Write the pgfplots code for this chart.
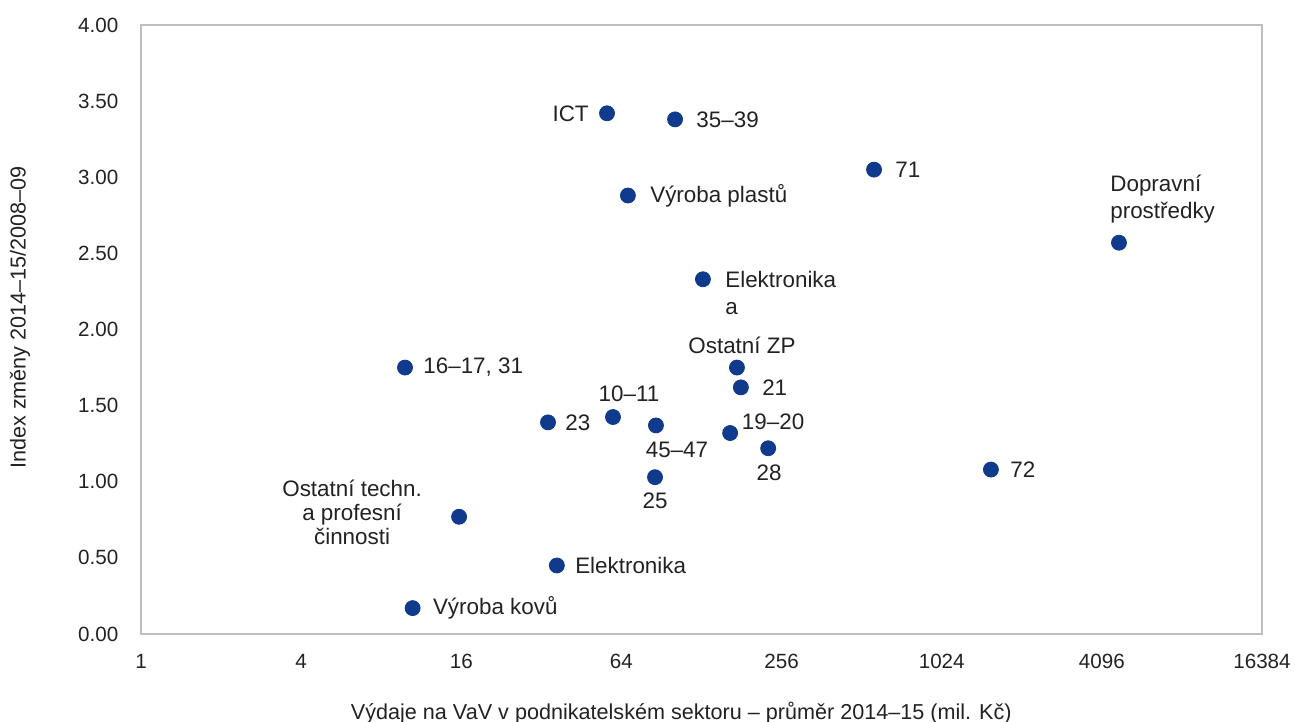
\documentclass[border=0pt]{standalone}
\usepackage{fontspec}
\setmainfont{Liberation Sans}
\usepackage{pgfplots}
\pgfplotsset{compat=1.18}

\definecolor{dotblue}{RGB}{16,58,140}
\definecolor{txt}{RGB}{34,34,34}
\definecolor{frame}{RGB}{190,190,190}

\begin{document}
\fontsize{11.2}{13}\selectfont
\begin{tikzpicture}
\begin{axis}[
    scale only axis,
    width=560.5pt, height=304.5pt,
    xmode=log, log basis x=2,
    xmin=1, xmax=16384,
    ymin=0, ymax=4,
    xtick={1,4,16,64,256,1024,4096,16384},
    xticklabels={1,4,16,64,256,1024,4096,16384},
    ytick={0,0.5,...,4},
    /pgf/number format/assume math mode=true,
    yticklabel style={/pgf/number format/fixed, /pgf/number format/fixed zerofill, /pgf/number format/precision=2},
    xticklabel style={yshift=-6pt},
    yticklabel style={xshift=-7.4pt},
    major tick length=0pt,
    axis line style={frame, line width=0.8pt},
    tick label style={font=\fontsize{10.3}{12}\selectfont, text=txt},
    every axis y label/.style={at={(axis description cs:-0.108,0.52)}, rotate=90, anchor=center},
    every axis x label/.style={at={(axis description cs:0.482,-0.13)}, anchor=center},
    label style={font=\fontsize{10.8}{13}\selectfont, text=txt},
    xlabel={Výdaje na VaV v podnikatelském sektoru – průměr 2014–15 (mil. Kč)},
    ylabel={Index změny 2014–15/2008–09},
    clip=false,
]
\addplot[only marks, mark=*, mark size=3.75pt, mark options={fill=dotblue, draw=dotblue}] coordinates {
    (56.5,3.42) (101.8,3.38) (570,3.05) (67.7,2.88) (4750,2.57)
    (129.6,2.33) (9.83,1.75) (174,1.75) (180,1.62) (59.5,1.425)
    (33.9,1.39) (86.3,1.37) (164,1.32) (228,1.22) (1568,1.08)
    (85.6,1.03) (15.7,0.77) (36.6,0.45) (10.5,0.17)
};
\begin{scope}[every node/.style={inner sep=0pt, text=txt, font=\fontsize{11.2}{13}\selectfont}]
\node[anchor=east, xshift=-9pt] at (axis cs:56.5,3.42) {ICT};
\node[anchor=west, xshift=10.5pt] at (axis cs:101.8,3.38) {35–39};
\node[anchor=west, xshift=10.5pt] at (axis cs:570,3.05) {71};
\node[anchor=west, xshift=11pt] at (axis cs:67.7,2.88) {Výroba plastů};
\node[anchor=west, align=left, font=\fontsize{11.2}{13.5}\selectfont, xshift=-4.5pt, yshift=21.75pt] at (axis cs:4750,2.57) {Dopravní\\prostředky};
\node[anchor=west, align=left, font=\fontsize{11.2}{13.5}\selectfont, xshift=11pt, yshift=-6.75pt] at (axis cs:129.6,2.33) {Elektronika\\a};
\node[anchor=west, xshift=9pt] at (axis cs:9.83,1.75) {16–17, 31};
\node[xshift=2.5pt, yshift=11pt] at (axis cs:174,1.75) {Ostatní ZP};
\node[anchor=west, xshift=10.5pt] at (axis cs:180,1.62) {21};
\node[xshift=8pt, yshift=11.5pt] at (axis cs:59.5,1.425) {10–11};
\node[anchor=west, xshift=8.5pt] at (axis cs:33.9,1.39) {23};
\node[xshift=10.5pt, yshift=-12pt] at (axis cs:86.3,1.37) {45–47};
\node[xshift=21.5pt, yshift=5.5pt] at (axis cs:164,1.32) {19–20};
\node[xshift=0.5pt, yshift=-12.5pt] at (axis cs:228,1.22) {28};
\node[anchor=west, xshift=9.5pt] at (axis cs:1568,1.08) {72};
\node[yshift=-12pt] at (axis cs:85.6,1.03) {25};
\node[align=center, font=\fontsize{11.2}{12}\selectfont, xshift=-53.5pt, yshift=2pt] at (axis cs:15.7,0.77) {Ostatní techn.\\a profesní\\činnosti};
\node[anchor=west, xshift=9pt] at (axis cs:36.6,0.45) {Elektronika};
\node[anchor=west, xshift=10pt] at (axis cs:10.5,0.17) {Výroba kovů};
\end{scope}
\end{axis}
\pgfresetboundingbox
\path[use as bounding box] (-70.5pt,-44pt) rectangle (577pt,317pt);
\end{tikzpicture}
\end{document}
